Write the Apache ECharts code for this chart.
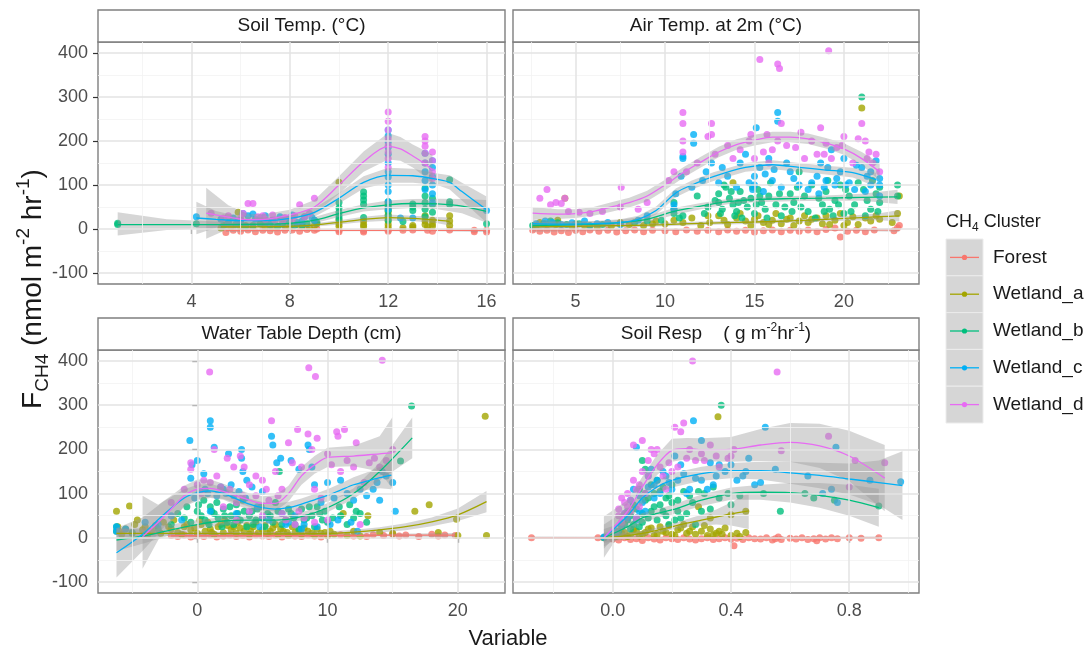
<!DOCTYPE html>
<html>
<head>
<meta charset="utf-8">
<script src="https://cdn.jsdelivr.net/npm/echarts@6/dist/echarts.min.js"></script>
<style>
html,body{margin:0;padding:0;background:#fff}
#chart{width:1091px;height:655px}
</style>
</head>
<body>
<div id="chart"></div>
<script>
// ---- categories ----
const clusters = ['Forest', 'Wetland_a', 'Wetland_b', 'Wetland_c', 'Wetland_d'];
const clusterColors = ['#F8766D', '#A3A500', '#00BF7D', '#00B0F6', '#E76BF3'];

// ---- tick labels ----
const yTicks = [-100, 0, 100, 200, 300, 400];
const yMinor = [-50, 50, 150, 250, 350];
const stTicks = [4, 8, 12, 16];
const stMinor = [2, 6, 10, 14];
const atTicks = [5, 10, 15, 20];
const atMinor = [2.5, 7.5, 12.5, 17.5, 22.5];
const wtTicks = [0, 10, 20];
const wtMinor = [-5, 5, 15];
const srTicks = [0, 0.4, 0.8];
const srMinor = [-0.2, 0.2, 0.6, 1.0];

// ---- Soil Temp. (°C): points [x, F] and loess fits [x, fit, lower, upper] ----
const stForestPts = [[5.4,-8],[5.7,-3],[6.0,-5],[6.3,-2],[6.6,-6],[6.9,-3],[7.2,-4],[7.5,-7],[7.8,-3],[8.1,-2],[8.4,-5],[8.7,-1],[9.0,-3],[9.1,0],[10,-3],[10,-6],[11,-4],[11,-7],[12,-2],[12,-5],[12.6,-3],[13,-2],[13.6,-3],[13.8,-5],[14.5,-2],[15.5,-3],[15.5,-6],[16,-3],[16,-7]];
const stForestFit = [[5.4,-3,-7,1],[8,-3,-5,-1],[10,-3,-5,-1],[12,-3,-5,-1],[14,-3,-5,-1],[16,-3,-7,1]];
const stWetAPts = [[5.2,2],[5.4,10],[5.6,5],[5.9,38],[6.0,3],[6.2,8],[6.5,6],[6.8,12],[7.0,4],[7.3,3],[7.5,5],[7.8,8],[8.0,4],[8.3,10],[8.5,6],[8.8,3],[9.0,8],[9.1,12],[10,106],[10,20],[10,12],[10,6],[11,18],[11,10],[11,5],[12,58],[12,48],[12,40],[12,32],[12,25],[12,18],[12,10],[12,4],[12.6,3],[13,8],[13,4],[13.5,30],[13.5,18],[13.5,10],[13.6,5],[13.8,20],[13.8,12],[13.8,6],[14.5,30],[14.5,18],[14.5,8]];
const stWetAFit = [[5.2,5,-2,12],[6,5,0,10],[8,6,2,10],[9,9,5,13],[10,15,10,20],[11,22,16,28],[12,26,19,33],[13,24,18,30],[14,20,13,27],[14.5,17,8,26]];
const stWetBPts = [[1,10],[1,13],[4.2,12],[5.3,8],[5.5,15],[5.8,10],[6,18],[6.2,6],[6.5,8],[6.8,12],[7,14],[7.2,9],[7.5,6],[7.7,11],[8,16],[8.2,8],[8.5,9],[8.7,12],[9,20],[9.1,15],[10,60],[10,48],[10,38],[10,30],[10,24],[11,84],[11,75],[11,66],[11,56],[11,26],[12,62],[12,52],[12,42],[12,30],[12,20],[12.6,17],[13,57],[13,50],[13,42],[13.5,93],[13.5,75],[13.5,60],[13.5,45],[13.5,28],[13.8,70],[13.8,55],[13.8,38],[14.5,112],[14.5,62],[14.5,56],[16,12]];
const stWetBFit = [[1,10,-15,38],[3,10,-2,22],[5,10,3,17],[7,11,6,16],[8,13,8,18],[9,20,13,27],[10,35,27,43],[11,48,40,56],[12,55,45,65],[13,58,48,68],[14,57,45,69],[15,52,36,68],[16,40,14,66]];
const stWetCPts = [[4.2,28],[5.2,22],[5.5,15],[5.7,25],[5.9,18],[6.0,20],[6.1,35],[6.3,30],[6.5,34],[6.6,22],[6.8,25],[7.0,30],[7.1,16],[7.3,20],[7.6,28],[7.8,22],[8.0,25],[8.1,32],[8.3,15],[8.5,18],[8.6,28],[8.9,26],[9.0,20],[12,225],[12,212],[12,198],[12,185],[12,170],[12,150],[12,130],[12,118],[12,100],[12,85],[12,62],[12,45],[12.5,25],[13,25],[13.5,172],[13.5,150],[13.5,130],[13.5,110],[13.5,90],[13.8,155],[13.8,140],[13.8,120],[13.8,100],[13.8,80],[13.8,60],[16,42]];
const stWetCFit = [[4.2,25,-12,62],[5,22,3,41],[6,19,10,28],[7,19,12,26],[8,24,16,32],[9,38,28,48],[10,70,58,82],[11,106,92,120],[12,122,105,139],[13,121,105,137],[14,113,100,126],[14.5,106,90,122],[15,85,65,105],[16,44,14,74]];
const stWetDPts = [[4.8,36],[5.3,25],[5.5,30],[6.0,25],[6.1,35],[6.3,58],[6.5,58],[6.7,28],[6.9,30],[7.0,22],[7.3,32],[7.4,20],[7.7,18],[7.8,26],[8.1,22],[8.2,30],[8.4,55],[8.6,28],[8.8,35],[9.0,70],[12,266],[12,245],[12,225],[12,205],[12,190],[12,175],[12,160],[12,140],[13.5,210],[13.5,200],[13.5,188],[13.5,172],[13.5,150],[13.8,175],[13.8,155],[13.8,130],[13.8,115]];
const stWetDFit = [[4.6,36,-22,94],[5.5,27,0,54],[6.3,21,8,34],[7,22,10,34],[8,32,20,44],[9,50,34,66],[10,100,80,120],[11,153,130,176],[12,188,158,218],[12.5,182,155,209],[13,166,140,192],[13.5,148,118,178],[13.8,134,100,168]];

// ---- Air Temp. at 2m (°C) ----
const atForestPts = [[2.6,-2],[3.0,-5],[3.4,-3],[3.8,-7],[4.2,-4],[4.6,-8],[5.0,-3],[5.4,-6],[5.8,-2],[6.3,-5],[6.8,-3],[7.3,-7],[7.8,-4],[8.3,-2],[8.8,-6],[9.3,-3],[10,-4],[10.6,-6],[11.2,-2],[11.8,-5],[12.4,-3],[13,-6],[13.5,-2],[14,-5],[14.5,-3],[15,-7],[15.5,-4],[16,-2],[16.5,-6],[17,-3],[17.5,-5],[18,-2],[18.5,-6],[19,-1],[19.5,2],[19.8,-18],[20.2,-5],[20.7,-3],[21.2,-6],[21.7,-2],[22.8,-4],[23,3],[23.1,8]];
const atForestFit = [[2.6,-2,-6,2],[8,-2,-4,0],[14,-2,-4,0],[20,-2,-4,0],[23.1,-2,-6,2]];
const atWetAPts = [[2.8,8],[3,15],[3.3,12],[3.9,10],[4,20],[4.4,70],[4.8,6],[5,12],[5.5,8],[6.2,5],[7.0,7],[7.5,15],[8.0,10],[8.8,8],[9.3,12],[9.5,18],[10,12],[10.5,20],[11,15],[11.5,25],[12,8],[12.4,30],[12.5,15],[13,30],[13.3,20],[13.5,10],[13.8,105],[14,25],[14.2,35],[14.5,18],[14.8,8],[15,22],[15.2,30],[15.5,15],[15.8,10],[16,20],[16.2,35],[16.5,12],[16.8,22],[17,25],[17.2,8],[17.5,18],[17.8,30],[18,15],[18.2,22],[18.5,25],[18.8,12],[19,30],[19.2,10],[19.5,20],[19.8,35],[20,8],[20.2,15],[20.5,28],[20.8,10],[21,275],[21.2,25],[21.5,18],[21.8,30],[22,22],[22.7,15],[23,35],[23.1,75]];
const atWetAFit = [[2.6,5,-1,11],[5,6,2,10],[8,8,4,12],[10,10,6,14],[12,13,9,17],[14,15,11,19],[16,17,13,21],[18,20,16,24],[20,24,19,29],[22,28,20,36],[23.1,30,17,43]];
const atWetBPts = [[2.6,8],[3.2,12],[3.6,18],[4.0,14],[4.5,10],[5.2,12],[5.8,8],[6.5,10],[7.5,12],[8.3,15],[9,18],[9.8,20],[10.5,60],[10.5,45],[10.5,35],[10.8,25],[11,30],[11.8,75],[12.2,35],[12.4,50],[12.8,65],[13,80],[13,60],[13.1,35],[13.2,45],[13.3,100],[13.4,95],[13.6,70],[13.7,85],[13.8,55],[13.9,30],[14,40],[14.1,60],[14.2,85],[14.3,25],[14.4,65],[14.6,50],[14.8,70],[14.9,95],[15,35],[15.1,55],[15.2,90],[15.3,75],[15.4,60],[15.6,45],[15.7,25],[15.8,75],[15.9,105],[16.2,55],[16.4,80],[16.5,30],[16.7,50],[17,80],[17.1,40],[17.2,60],[17.4,95],[17.5,130],[17.6,50],[17.8,75],[18,40],[18.2,100],[18.4,25],[18.6,70],[18.8,55],[18.9,40],[19,85],[19.1,110],[19.2,45],[19.4,30],[19.5,65],[19.7,55],[19.8,100],[20,35],[20.1,90],[20.3,75],[20.4,40],[20.6,55],[20.8,105],[21,300],[21.1,90],[21.2,30],[21.3,65],[21.5,45],[21.6,110],[21.8,80],[21.9,40],[22,60],[22,95],[23,100],[23,75]];
const atWetBFit = [[2.6,8,0,16],[5,10,4,16],[7,13,7,19],[9,22,15,29],[10.5,40,32,48],[12,52,45,59],[13.5,62,56,68],[15,67,61,73],[17,69,63,75],[19,70,64,76],[21,72,64,80],[23,73,57,89]];
const atWetCPts = [[2.8,12],[3.3,18],[3.7,15],[4.2,10],[4.8,14],[5.5,18],[6.2,12],[6.8,15],[7.5,10],[8.5,20],[9,30],[10.5,55],[10.5,45],[10.6,80],[10.9,120],[11,165],[11,160],[11.5,95],[11.6,215],[11.6,195],[12.1,110],[12.3,130],[12.6,150],[13,105],[13.2,140],[13.5,120],[14,95],[14.2,150],[14.5,170],[14.7,105],[14.9,90],[15,120],[15,100],[15.1,230],[15.3,140],[15.5,85],[15.6,125],[15.8,160],[16,110],[16.1,135],[16.3,265],[16.3,245],[16.5,95],[16.8,150],[17,130],[17.2,115],[17.5,100],[18,90],[18.2,105],[18.5,120],[18.6,80],[18.7,150],[18.9,95],[19,110],[19.1,140],[19.3,180],[19.5,100],[19.6,115],[19.8,130],[20,160],[20.1,100],[20.3,105],[20.6,90],[20.7,145],[21,140],[21.2,85],[21.3,120],[21.5,100],[21.5,130],[21.8,155],[22,115],[22,100],[22,75]];
const atWetCFit = [[2.6,12,2,22],[4,11,4,18],[6,12,6,18],[7.5,15,8,22],[8.5,22,14,30],[9.5,42,33,51],[10.6,82,72,92],[11.5,100,90,110],[12.7,119,109,129],[14.5,140,130,150],[16,146,136,156],[17.5,140,130,150],[19,134,124,144],[20.5,128,117,139],[21.8,112,96,128]];
const atWetDPts = [[3.0,70],[3.4,90],[3.6,55],[3.9,60],[4.2,58],[4.4,70],[4.6,40],[5.2,38],[5.8,35],[6.5,40],[7.5,50],[7.55,95],[8.5,45],[9,60],[10.2,110],[10.5,130],[11,265],[11,240],[11,200],[11,175],[11.2,130],[11.8,150],[12.4,210],[12.6,240],[12.6,215],[12.8,170],[13.5,190],[13.8,160],[14.2,180],[14.7,200],[14.8,215],[15,160],[15.3,385],[15.5,175],[15.7,215],[15.8,150],[16,180],[16.3,375],[16.4,365],[16.3,200],[16.5,240],[16.8,190],[17.3,185],[17.6,220],[17.8,160],[18.2,200],[18.5,170],[18.7,230],[18.9,170],[19,195],[19.15,405],[19.3,160],[19.6,185],[19.9,190],[20,210],[20.5,150],[20.8,205],[21,240],[21.2,200],[21.3,160],[21.4,175],[21.6,150],[21.8,170],[22,130]];
const atWetDFit = [[2.6,36,22,50],[4,34,23,45],[5,35,25,45],[6,40,30,50],[7,50,39,61],[8,60,49,71],[9,75,63,87],[10,100,88,112],[11,128,116,140],[12,152,140,164],[13,175,163,187],[14,192,180,204],[15,202,190,214],[16,209,197,221],[17,209,197,221],[18,205,193,217],[19,195,183,207],[20,182,169,195],[21,160,145,175],[22,130,110,150]];

// ---- Water Table Depth (cm) ----
const wtForestPts = [[-2,5],[-1.5,3],[-1,6],[-0.5,2],[0,5],[0.5,3],[1,7],[1.5,2],[2,4],[2.5,6],[3,3],[3.5,5],[4,2],[4.5,6],[5,4],[5.5,3],[6,6],[6.5,2],[7,5],[7.5,4],[8,3],[8.5,6],[9,4],[9.5,2],[10,5],[11,7],[12,4],[13,3],[13.5,7],[14.3,5],[15,8],[15.5,4],[16,6],[17,3],[18,8],[18.5,4],[19,6],[19.8,5]];
const wtForestFit = [[-2,5,1,9],[5,5,3,7],[10,5,3,7],[15,6,3,9],[19.8,6,1,11]];
const wtWetAPts = [[-6.2,60],[-6.1,25],[-6,15],[-5.8,8],[-5.5,20],[-5.2,72],[-5,10],[-4.8,30],[-4.6,40],[-4.2,18],[-4,25],[-3.8,8],[-3.5,15],[-3.2,28],[-2.8,10],[-2.6,35],[-2.2,25],[-2,20],[-1.8,40],[-1.5,12],[-1.2,8],[-1,25],[-0.8,30],[-0.5,18],[-0.2,22],[0,10],[0.2,40],[0.3,30],[0.6,15],[0.8,35],[1,20],[1.1,12],[1.3,8],[1.6,25],[1.8,30],[2,12],[2.1,40],[2.3,28],[2.6,18],[2.8,25],[3,10],[3.1,35],[3.3,22],[3.6,15],[3.8,28],[4,8],[4.1,15],[4.3,25],[4.5,35],[4.7,12],[5,18],[5.2,28],[5.4,10],[5.6,15],[5.8,22],[6,30],[6.2,8],[6.4,20],[6.6,15],[6.9,12],[7,5],[7.3,25],[7.5,12],[7.8,18],[8,8],[8.2,22],[8.5,15],[8.8,10],[9,6],[9.2,20],[9.5,10],[9.8,12],[10,5],[10.2,15],[10.5,8],[11.2,55],[11.5,5],[12,15],[12.5,4],[13.1,50],[14,12],[15,10],[16.7,60],[17.8,75],[18.5,12],[19.9,42],[20,5],[22.1,275],[22.2,5]];
const wtWetAFit = [[-6.2,10,-2,22],[-3,10,4,16],[0,10,6,14],[5,9,5,13],[10,10,6,14],[12,13,8,18],[14,18,12,24],[16,25,17,33],[18,36,26,46],[20,52,38,66],[22.2,82,58,106]];
const wtWetBPts = [[-6.2,15],[-6.2,25],[-5,12],[-3,20],[-2,30],[-1.5,55],[-1,45],[-0.8,70],[-0.5,35],[0,60],[0.1,75],[0.3,50],[0.5,85],[0.6,40],[0.9,30],[1,70],[1.1,60],[1.3,55],[1.5,80],[1.6,45],[1.9,25],[2,65],[2.1,50],[2.3,35],[2.5,70],[2.6,50],[2.8,30],[3,75],[3.1,55],[3.3,40],[3.5,85],[3.6,60],[3.8,25],[4,50],[4.2,60],[4.3,30],[4.5,40],[4.6,65],[4.9,70],[5,45],[5.2,25],[5.4,55],[5.6,50],[5.8,35],[6,80],[6.2,60],[6.3,150],[6.5,30],[6.8,40],[7,65],[7.2,55],[7.4,45],[7.5,30],[7.8,20],[8,65],[8.2,40],[8.4,45],[8.6,70],[8.8,50],[9,25],[9.2,70],[9.4,55],[9.6,40],[9.8,60],[10,35],[10.4,45],[10.9,70],[11,50],[11.5,30],[11.7,75],[12,45],[12.2,60],[12.5,55],[13,35],[15.6,174],[16.45,298]];
const wtWetBFit = [[-6.2,-5,-30,20],[-4,5,-12,22],[-2,18,6,30],[0,30,20,40],[2,38,29,47],[4,40,32,48],[6,40,32,48],[8,48,39,57],[10,68,58,78],[12,100,88,112],[14,150,130,170],[16.5,226,180,272]];
const wtWetCPts = [[-6.2,25],[-6.2,15],[-5.5,20],[-4,35],[-3,30],[-2,50],[-1.2,40],[-0.57,220],[-0.5,135],[-0.4,165],[-0.2,90],[0,175],[0.2,105],[0.5,145],[0.6,110],[0.8,100],[1,265],[1,250],[1,60],[1.3,205],[1.5,95],[1.8,115],[2,110],[2.2,100],[2.4,190],[2.6,120],[2.8,95],[3,55],[3.2,105],[3.4,200],[3.4,180],[3.5,150],[3.7,90],[3.8,130],[4.2,115],[4.6,70],[4.8,25],[5,105],[5,45],[5.5,40],[5.7,230],[5.8,210],[6.1,170],[6.4,180],[6.5,55],[6.8,30],[7,35],[7.2,175],[7.5,50],[7.8,155],[8,20],[8.2,30],[8.5,210],[8.6,200],[8.8,160],[9,120],[9.2,25],[9.5,80],[10,125],[10.2,30],[10.5,90],[10.8,40],[11,130],[11.5,100],[11.8,35],[12,85],[12.3,15],[12.5,110],[13,95],[13.5,110],[13.8,125],[14,85],[14.2,150],[14.5,140],[15,125],[15.2,60]];
const wtWetCFit = [[-6.2,-34,-90,22],[-4.2,8,-30,46],[-2.6,52,22,82],[-1,90,70,110],[0,102,84,120],[1,106,90,122],[2,100,86,114],[3,88,74,102],[4,76,63,89],[5,68,55,81],[6,65,52,78],[7,68,55,81],[8,76,63,89],[9,86,73,99],[10,96,82,110],[11,108,93,123],[12,120,103,137],[13,128,108,148],[14,136,112,160],[14.9,142,110,174]];
const wtWetDPts = [[-2,80],[-1,110],[-0.5,170],[-0.5,155],[0,120],[0.3,100],[0.5,130],[0.95,375],[1,125],[1.3,200],[1.5,140],[1.8,115],[2,70],[2.3,180],[2.5,110],[2.8,160],[3,80],[3,40],[3.3,185],[3.5,95],[3.6,160],[4,120],[4,60],[4.5,95],[4.5,140],[5,130],[5,50],[5.3,110],[5.5,85],[5.7,265],[6,150],[6.2,95],[6.5,110],[6.5,55],[6.8,40],[7,215],[7.3,170],[7.5,30],[7.7,245],[7.8,60],[8,160],[8.2,45],[8.5,235],[8.56,385],[8.8,200],[9,110],[9,35],[9.07,365],[9.2,225],[9.5,90],[10,190],[10,40],[10.3,165],[10.7,240],[10.8,230],[11,150],[11.3,245],[11.5,175],[12,160],[12.2,215],[12.5,30],[12.8,125],[13.2,170],[13.6,180],[14,160],[14.2,402],[14.5,175],[15,200]];
const wtWetDFit = [[-4.2,2,-70,95],[-3,35,-5,75],[-2,65,35,95],[-1,95,72,118],[0,110,88,132],[1,112,92,132],[2,105,88,122],[3,95,79,111],[4,85,70,100],[5,78,62,94],[6,78,60,96],[7,100,82,118],[8,140,120,160],[9,165,145,185],[10,182,160,204],[12,185,162,208],[14,190,150,230],[15,192,110,274]];

// ---- Soil Resp (g m-2 hr-1) ----
const srForestPts = [[-0.275,0],[-0.05,0],[-0.03,0],[0,-3],[0.02,-5],[0.04,0],[0.06,-4],[0.08,-2],[0.1,-6],[0.12,0],[0.14,-3],[0.16,-5],[0.18,0],[0.2,-2],[0.22,-4],[0.24,0],[0.26,-3],[0.28,-5],[0.3,-2],[0.32,0],[0.34,-4],[0.36,-2],[0.38,0],[0.4,-3],[0.41,-18],[0.42,-1],[0.44,-4],[0.46,0],[0.48,-2],[0.5,-3],[0.52,0],[0.54,-5],[0.55,-2],[0.56,2],[0.57,-4],[0.6,-1],[0.62,-3],[0.64,0],[0.66,-4],[0.68,-2],[0.69,-7],[0.7,0],[0.72,-3],[0.74,0],[0.76,-2],[0.8,0],[0.84,-1],[0.9,0]];
const srForestFit = [[-0.275,0,-3,3],[0.3,0,-2,2],[0.9,0,-3,3]];
const srWetAPts = [[0,5],[0.01,3],[0.02,8],[0.03,10],[0.04,12],[0.05,3],[0.06,6],[0.07,18],[0.08,15],[0.09,4],[0.1,8],[0.11,12],[0.12,20],[0.13,22],[0.14,5],[0.15,8],[0.16,25],[0.17,15],[0.18,12],[0.19,28],[0.2,8],[0.21,5],[0.22,18],[0.23,22],[0.24,30],[0.25,10],[0.26,15],[0.27,25],[0.28,8],[0.29,70],[0.3,15],[0.31,28],[0.32,5],[0.33,45],[0.33,20],[0.34,6],[0.35,10],[0.356,274],[0.36,15],[0.37,8],[0.38,22],[0.4,52],[0.4,5],[0.42,10],[0.43,3],[0.45,60],[0.45,12]];
const srWetAFit = [[-0.03,0,-12,12],[0.05,5,-2,12],[0.1,10,4,16],[0.15,17,11,23],[0.2,25,18,32],[0.25,33,24,42],[0.3,40,28,52],[0.35,47,30,64],[0.4,54,28,80],[0.46,61,20,102]];
const srWetBPts = [[-0.03,0],[0.01,5],[0.02,15],[0.03,25],[0.04,30],[0.05,60],[0.05,40],[0.06,20],[0.06,50],[0.07,75],[0.07,30],[0.08,45],[0.08,65],[0.09,110],[0.09,25],[0.1,175],[0.1,35],[0.1,55],[0.11,155],[0.11,85],[0.12,90],[0.12,45],[0.13,60],[0.13,120],[0.14,100],[0.14,70],[0.15,130],[0.15,40],[0.16,75],[0.16,105],[0.17,115],[0.17,60],[0.18,50],[0.18,90],[0.19,95],[0.19,30],[0.2,80],[0.2,120],[0.21,40],[0.22,60],[0.22,85],[0.23,45],[0.24,105],[0.25,55],[0.26,95],[0.27,80],[0.28,30],[0.29,105],[0.3,60],[0.31,100],[0.33,65],[0.34,115],[0.36,90],[0.367,300],[0.39,100],[0.4,75],[0.43,95],[0.51,100],[0.567,60],[0.65,100],[0.68,90],[0.75,85],[0.9,72]];
const srWetBFit = [[-0.03,0,-20,20],[0.05,25,12,38],[0.1,45,34,56],[0.15,55,45,65],[0.2,63,52,74],[0.3,85,72,98],[0.4,100,86,114],[0.5,103,86,120],[0.6,102,80,124],[0.7,96,68,124],[0.8,85,50,120],[0.9,68,25,111]];
const srWetCPts = [[-0.03,2],[0.01,15],[0.03,30],[0.04,55],[0.05,45],[0.06,85],[0.07,110],[0.08,205],[0.08,40],[0.09,60],[0.09,95],[0.1,80],[0.11,100],[0.11,60],[0.12,140],[0.12,115],[0.13,155],[0.14,90],[0.14,120],[0.15,130],[0.16,100],[0.17,150],[0.18,140],[0.19,125],[0.2,110],[0.21,185],[0.22,130],[0.23,165],[0.24,145],[0.25,100],[0.26,110],[0.273,265],[0.28,135],[0.3,220],[0.3,130],[0.32,110],[0.33,170],[0.34,120],[0.35,140],[0.36,165],[0.38,150],[0.4,165],[0.42,130],[0.44,140],[0.45,150],[0.46,180],[0.48,120],[0.5,125],[0.516,250],[0.55,155],[0.66,140],[0.71,100],[0.74,110],[0.755,205],[0.76,80],[0.87,130],[0.974,127]];
const srWetCFit = [[-0.03,0,-25,30],[0.05,50,35,65],[0.1,90,76,104],[0.15,115,101,129],[0.2,130,114,146],[0.3,145,129,161],[0.4,152,135,169],[0.5,152,132,172],[0.6,147,122,172],[0.7,141,112,170],[0.8,133,98,168],[0.9,125,75,175],[0.98,118,40,196]];
const srWetDPts = [[0.02,50],[0.02,65],[0.03,35],[0.03,90],[0.04,80],[0.04,55],[0.05,70],[0.05,100],[0.06,60],[0.06,85],[0.07,210],[0.07,130],[0.08,45],[0.08,110],[0.09,120],[0.09,70],[0.1,220],[0.1,150],[0.11,100],[0.12,140],[0.12,175],[0.13,200],[0.14,190],[0.15,200],[0.16,160],[0.17,140],[0.18,110],[0.19,170],[0.2,150],[0.21,250],[0.22,160],[0.23,240],[0.24,260],[0.25,180],[0.26,200],[0.27,400],[0.28,175],[0.3,190],[0.31,175],[0.33,210],[0.35,185],[0.36,160],[0.39,180],[0.4,185],[0.41,200],[0.556,375],[0.57,197],[0.73,230],[0.8,115],[0.82,175],[0.92,170]];
const srWetDFit = [[-0.03,0,-45,48],[0.05,60,35,85],[0.1,115,92,138],[0.15,165,142,188],[0.2,198,172,224],[0.25,202,178,226],[0.3,199,173,225],[0.4,200,172,228],[0.5,210,174,246],[0.6,216,172,260],[0.7,208,158,258],[0.8,185,128,242],[0.92,135,60,210]];

// ---- facet definitions ----
const FONT = '"Liberation Sans", Arial, sans-serif';
const panels = [
  { title: 'Soil Temp. (°C)', min: 0.2, max: 16.75, ticks: stTicks, minor: stMinor, fmt: v => String(v),
    pts: [stForestPts, stWetAPts, stWetBPts, stWetCPts, stWetDPts],
    fit: [stForestFit, stWetAFit, stWetBFit, stWetCFit, stWetDFit] },
  { title: 'Air Temp. at 2m (°C)', min: 1.5, max: 24.2, ticks: atTicks, minor: atMinor, fmt: v => String(v),
    pts: [atForestPts, atWetAPts, atWetBPts, atWetCPts, atWetDPts],
    fit: [atForestFit, atWetAFit, atWetBFit, atWetCFit, atWetDFit] },
  { title: 'Water Table Depth (cm)', min: -7.62, max: 23.62, ticks: wtTicks, minor: wtMinor, fmt: v => String(v),
    pts: [wtForestPts, wtWetAPts, wtWetBPts, wtWetCPts, wtWetDPts],
    fit: [wtForestFit, wtWetAFit, wtWetBFit, wtWetCFit, wtWetDFit] },
  { title: '{n|Soil Resp    ( g m}{s|-2}{n|hr}{s|-1}{n|)}', min: -0.3375, max: 1.036, ticks: srTicks, minor: srMinor, fmt: v => v.toFixed(1),
    pts: [srForestPts, srWetAPts, srWetBPts, srWetCPts, srWetDPts],
    fit: [srForestFit, srWetAFit, srWetBFit, srWetCFit, srWetDFit] }
];

const boxes = [
  { left: 98, top: 42, width: 407, height: 242 },
  { left: 513, top: 42, width: 406, height: 242 },
  { left: 98, top: 350, width: 407, height: 243 },
  { left: 513, top: 350, width: 406, height: 243 }
];
const stripH = 32;
const Y_MIN = -125, Y_MAX = 425;

const grids = [], xAxes = [], yAxes = [], series = [], graphics = [];

// confidence ribbon drawn as one polygon through the axis scales
function bandRenderer(fit) {
  return function (params, api) {
    if (params.dataIndex !== 0) return null;
    const upper = fit.map(d => api.coord([d[0], d[3]]));
    const lower = fit.map(d => api.coord([d[0], d[2]])).reverse();
    return {
      type: 'polygon',
      shape: { points: upper.concat(lower) },
      style: { fill: 'rgba(153,153,153,0.4)' },
      silent: true
    };
  };
}

panels.forEach((p, i) => {
  const b = boxes[i];
  const showY = (i % 2 === 0);
  grids.push({ left: b.left, top: b.top, width: b.width, height: b.height,
    show: true, backgroundColor: '#fff', borderColor: '#7f7f7f', borderWidth: 1.4, containLabel: false });
  xAxes.push({
    gridIndex: i, type: 'value', min: p.min, max: p.max,
    axisLine: { show: false },
    axisTick: { show: true, length: 5, customValues: p.ticks, lineStyle: { color: '#333', width: 1.2 } },
    axisLabel: { customValues: p.ticks, formatter: p.fmt, color: '#4d4d4d', fontSize: 18, fontFamily: FONT, margin: 9 },
    splitLine: { show: false }
  });
  yAxes.push({
    gridIndex: i, type: 'value', min: Y_MIN, max: Y_MAX,
    axisLine: { show: false },
    axisTick: { show: showY, length: 5, customValues: yTicks, lineStyle: { color: '#333', width: 1.2 } },
    axisLabel: { show: showY, customValues: yTicks, color: '#4d4d4d', fontSize: 18, fontFamily: FONT, margin: 10 },
    splitLine: { show: false }
  });

  // panel gridlines (minor first, then major)
  const gl = [];
  p.minor.forEach(v => gl.push({ xAxis: v, lineStyle: { color: '#f2f2f2', width: 0.8, type: 'solid' } }));
  yMinor.forEach(v => gl.push({ yAxis: v, lineStyle: { color: '#f2f2f2', width: 0.8, type: 'solid' } }));
  p.ticks.forEach(v => gl.push({ xAxis: v, lineStyle: { color: '#e3e3e3', width: 1.5, type: 'solid' } }));
  yTicks.forEach(v => gl.push({ yAxis: v, lineStyle: { color: '#e3e3e3', width: 1.5, type: 'solid' } }));
  series.push({
    type: 'line', xAxisIndex: i, yAxisIndex: i, data: [], silent: true, z: 1,
    markLine: { silent: true, symbol: ['none', 'none'], label: { show: false }, animation: false, data: gl }
  });

  clusters.forEach((c, k) => {
    series.push({
      name: c, type: 'scatter', xAxisIndex: i, yAxisIndex: i, z: 2,
      data: p.pts[k], symbol: 'circle', symbolSize: 7,
      itemStyle: { color: clusterColors[k] }, silent: true
    });
  });
  clusters.forEach((c, k) => {
    series.push({
      name: c + ' band', type: 'custom', xAxisIndex: i, yAxisIndex: i, z: 3,
      data: p.fit[k], encode: { x: 0, y: [1, 2, 3] },
      renderItem: bandRenderer(p.fit[k]), silent: true
    });
  });
  clusters.forEach((c, k) => {
    series.push({
      name: c + ' fit', type: 'line', xAxisIndex: i, yAxisIndex: i, z: 4,
      data: p.fit[k].map(d => [d[0], d[1]]), smooth: 0.3, showSymbol: false,
      lineStyle: { color: clusterColors[k], width: 1.3 }, silent: true
    });
  });

  // facet strip
  graphics.push({
    type: 'rect', shape: { x: b.left, y: b.top - stripH, width: b.width, height: stripH },
    style: { fill: '#fff', stroke: '#7f7f7f', lineWidth: 1.4 }, silent: true
  });
  graphics.push({
    type: 'text', x: b.left + b.width / 2, y: b.top - stripH / 2,
    style: {
      text: p.title, align: 'center', verticalAlign: 'middle',
      fontSize: 19, fontFamily: FONT, fill: '#1a1a1a',
      rich: {
        n: { fontSize: 19, fontFamily: FONT, fill: '#1a1a1a', lineHeight: 24 },
        s: { fontSize: 12, fontFamily: FONT, fill: '#1a1a1a', verticalAlign: 'top', lineHeight: 12 }
      }
    }, silent: true
  });
});

// axis titles
graphics.push({
  type: 'text', x: 508, y: 639,
  style: { text: 'Variable', align: 'center', verticalAlign: 'middle', fontSize: 22, fontFamily: FONT, fill: '#1a1a1a' },
  silent: true
});
graphics.push({
  type: 'text', x: 33, y: 289, rotation: Math.PI / 2,
  style: {
    text: '{n|F}{b|CH4}{n| (nmol m}{t|-2}{n| hr}{t|-1}{n|)}',
    align: 'center', verticalAlign: 'middle',
    rich: {
      n: { fontSize: 28, fontFamily: FONT, fill: '#1a1a1a', lineHeight: 38 },
      b: { fontSize: 19, fontFamily: FONT, fill: '#1a1a1a', verticalAlign: 'bottom', lineHeight: 19 },
      t: { fontSize: 19, fontFamily: FONT, fill: '#1a1a1a', verticalAlign: 'top', lineHeight: 19 }
    }
  },
  silent: true
});

// legend
const legX = 946, legTop = 239, keyW = 37, keyH = 36.8;
graphics.push({
  type: 'text', x: legX, y: 222,
  style: {
    text: '{n|CH}{b|4}{n| Cluster}', align: 'left', verticalAlign: 'middle',
    rich: {
      n: { fontSize: 18, fontFamily: FONT, fill: '#1a1a1a', lineHeight: 24 },
      b: { fontSize: 12, fontFamily: FONT, fill: '#1a1a1a', verticalAlign: 'bottom', lineHeight: 12 }
    }
  }, silent: true
});
clusters.forEach((c, k) => {
  const y0 = legTop + k * keyH;
  const cy = y0 + keyH / 2;
  graphics.push({ type: 'rect', shape: { x: legX, y: y0, width: keyW, height: keyH },
    style: { fill: '#d6d6d6', stroke: '#ececec', lineWidth: 1 }, silent: true });
  graphics.push({ type: 'line', shape: { x1: legX + 4, y1: cy, x2: legX + keyW - 4, y2: cy },
    style: { stroke: clusterColors[k], lineWidth: 1.3 }, silent: true });
  graphics.push({ type: 'circle', shape: { cx: legX + keyW / 2, cy: cy, r: 2.6 },
    style: { fill: clusterColors[k] }, silent: true });
  graphics.push({ type: 'text', x: legX + 47, y: cy,
    style: { text: c, align: 'left', verticalAlign: 'middle', fontSize: 19, fontFamily: FONT, fill: '#1a1a1a' }, silent: true });
});

const chart = echarts.init(document.getElementById('chart'), null, { renderer: 'canvas' });
chart.setOption({
  animation: false,
  backgroundColor: '#fff',
  grid: grids,
  xAxis: xAxes,
  yAxis: yAxes,
  series: series,
  graphic: { elements: graphics }
});
</script>
</body>
</html>
